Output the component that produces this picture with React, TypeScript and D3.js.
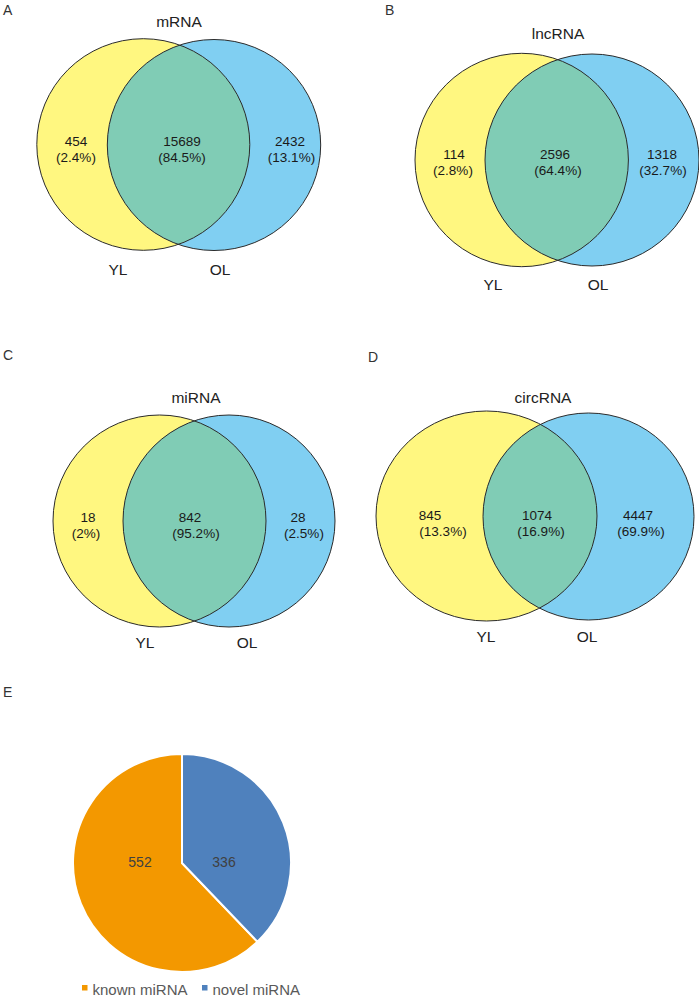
import React from "react";
import * as d3 from "d3";

// ---------- data ----------
const vennTitles = ["mRNA", "lncRNA", "miRNA", "circRNA"];
const panelLetters = ["A", "B", "C", "D", "E"];
const setNames = ["YL", "OL"];
const onlyYL = [454, 114, 18, 845];
const shared = [15689, 2596, 842, 1074];
const onlyOL = [2432, 1318, 28, 4447];
const pctYL = ["2.4%", "2.8%", "2%", "13.3%"];
const pctShared = ["84.5%", "64.4%", "95.2%", "16.9%"];
const pctOL = ["13.1%", "32.7%", "2.5%", "69.9%"];

const pieCategories = ["known miRNA", "novel miRNA"];
const pieValues = [552, 336];

// ---------- layout ----------
const W = 699;
const H = 998;
const FONT = "'Liberation Sans', Arial, Helvetica, sans-serif";
const YELLOW = "#FFF780";
const BLUE = "#80CFF2";
const GREEN = "#80CCB5";
const STROKE = "#2b2b2b";
const TEXT = "#1a1a1a";
const PIE_COLORS = ["#F39800", "#4F81BD"];

type Ell = { cx: number; cy: number; rx: number; ry: number };
type Lbl = { x1: number; x2: number };
type Panel = {
  letter: [number, number];
  title: [number, number];
  yellow: Ell;
  blue: Ell;
  y1: number;
  y2: number;
  left: Lbl;
  mid: Lbl;
  right: Lbl;
  yl: [number, number];
  ol: [number, number];
};

const panels: Panel[] = [
  {
    letter: [3, 15],
    title: [179, 27],
    yellow: { cx: 143.3, cy: 144.5, rx: 106.5, ry: 105.8 },
    blue: { cx: 214, cy: 145, rx: 106.7, ry: 105.5 },
    y1: 146,
    y2: 161.5,
    left: { x1: 76, x2: 76 },
    mid: { x1: 182, x2: 182 },
    right: { x1: 290, x2: 291.5 },
    yl: [118, 275],
    ol: [220, 275],
  },
  {
    letter: [385, 15],
    title: [558, 39],
    yellow: { cx: 521.7, cy: 160, rx: 106.7, ry: 106.7 },
    blue: { cx: 592, cy: 160, rx: 107, ry: 106 },
    y1: 158.5,
    y2: 175,
    left: { x1: 454, x2: 453 },
    mid: { x1: 555, x2: 558 },
    right: { x1: 662, x2: 663 },
    yl: [493, 290],
    ol: [598, 290],
  },
  {
    letter: [3, 360],
    title: [196, 403],
    yellow: { cx: 159.5, cy: 521, rx: 106.5, ry: 106 },
    blue: { cx: 229, cy: 521, rx: 106, ry: 106 },
    y1: 522,
    y2: 538,
    left: { x1: 88, x2: 86 },
    mid: { x1: 190, x2: 196 },
    right: { x1: 298, x2: 304 },
    yl: [145, 648],
    ol: [247, 648],
  },
  {
    letter: [368, 362],
    title: [543, 403],
    yellow: { cx: 486.5, cy: 516, rx: 110.5, ry: 105 },
    blue: { cx: 588.5, cy: 516.5, rx: 105.5, ry: 103.5 },
    y1: 519.5,
    y2: 536,
    left: { x1: 430, x2: 443 },
    mid: { x1: 537, x2: 541 },
    right: { x1: 638, x2: 641 },
    yl: [486, 642],
    ol: [587, 642],
  },
];

const pieGeom = { cx: 182, cy: 863, r: 109 };

function VennPanel({ i, p }: { i: number; p: Panel }) {
  const clipId = `clip-blue-${i}`;
  const fmt = d3.format("d");
  const lbl = (x: number, y: number, s: string) => (
    <text x={x} y={y} textAnchor="middle" fontSize={13.5} fill={TEXT}>
      {s}
    </text>
  );
  return (
    <g fontFamily={FONT}>
      <defs>
        <clipPath id={clipId}>
          <ellipse cx={p.blue.cx} cy={p.blue.cy} rx={p.blue.rx} ry={p.blue.ry} />
        </clipPath>
      </defs>
      <text x={p.letter[0]} y={p.letter[1]} fontSize={14} fill="#333">
        {panelLetters[i]}
      </text>
      <text x={p.title[0]} y={p.title[1]} textAnchor="middle" fontSize={15.5} fill="#222">
        {vennTitles[i]}
      </text>
      <ellipse cx={p.yellow.cx} cy={p.yellow.cy} rx={p.yellow.rx} ry={p.yellow.ry} fill={YELLOW} />
      <ellipse cx={p.blue.cx} cy={p.blue.cy} rx={p.blue.rx} ry={p.blue.ry} fill={BLUE} />
      <ellipse
        cx={p.yellow.cx}
        cy={p.yellow.cy}
        rx={p.yellow.rx}
        ry={p.yellow.ry}
        fill={GREEN}
        clipPath={`url(#${clipId})`}
      />
      <ellipse cx={p.yellow.cx} cy={p.yellow.cy} rx={p.yellow.rx} ry={p.yellow.ry} fill="none" stroke={STROKE} strokeWidth={1} />
      <ellipse cx={p.blue.cx} cy={p.blue.cy} rx={p.blue.rx} ry={p.blue.ry} fill="none" stroke={STROKE} strokeWidth={1} />
      {lbl(p.left.x1, p.y1, fmt(onlyYL[i]))}
      {lbl(p.left.x2, p.y2, `(${pctYL[i]})`)}
      {lbl(p.mid.x1, p.y1, fmt(shared[i]))}
      {lbl(p.mid.x2, p.y2, `(${pctShared[i]})`)}
      {lbl(p.right.x1, p.y1, fmt(onlyOL[i]))}
      {lbl(p.right.x2, p.y2, `(${pctOL[i]})`)}
      <text x={p.yl[0]} y={p.yl[1]} textAnchor="middle" fontSize={15.5} fill="#222">
        {setNames[0]}
      </text>
      <text x={p.ol[0]} y={p.ol[1]} textAnchor="middle" fontSize={15.5} fill="#222">
        {setNames[1]}
      </text>
    </g>
  );
}

function PiePanel() {
  const total = d3.sum(pieValues);
  const knownAngle = (pieValues[0] / total) * 2 * Math.PI;
  const pie = d3
    .pie<number>()
    .sort(null)
    .value((d) => d)
    .startAngle(-knownAngle)
    .endAngle(2 * Math.PI - knownAngle);
  const arcs = pie(pieValues);
  const arc = d3.arc<d3.PieArcDatum<number>>().innerRadius(0).outerRadius(pieGeom.r);
  const labelPos = [
    [-42, 4],
    [42, 4],
  ];
  const legendX = [82, 202];
  return (
    <g fontFamily={FONT}>
      <text x={3} y={697} fontSize={14} fill="#333">
        {panelLetters[4]}
      </text>
      <g transform={`translate(${pieGeom.cx},${pieGeom.cy})`}>
        {arcs.map((a, k) => (
          <path key={k} d={arc(a) || ""} fill={PIE_COLORS[k]} stroke="#fff" strokeWidth={2} strokeLinejoin="round" />
        ))}
        {arcs.map((a, k) => (
          <text key={"t" + k} x={labelPos[k][0]} y={labelPos[k][1]} textAnchor="middle" fontSize={14} fill="#404040">
            {a.data}
          </text>
        ))}
      </g>
      {pieCategories.map((c, k) => (
        <g key={c}>
          <rect x={legendX[k]} y={985} width={5.5} height={5.5} fill={PIE_COLORS[k]} />
          <text x={legendX[k] + 10.5} y={994.5} fontSize={15} fill="#595959">
            {c}
          </text>
        </g>
      ))}
    </g>
  );
}

export default function App() {
  return (
    <svg
      width={W}
      height={H}
      viewBox={`0 0 ${W} ${H}`}
      style={{ position: "absolute", left: 0, top: 0, background: "#fff" }}
    >
      <rect x={0} y={0} width={W} height={H} fill="#fff" />
      {panels.map((p, i) => (
        <VennPanel key={i} i={i} p={p} />
      ))}
      <PiePanel />
    </svg>
  );
}
